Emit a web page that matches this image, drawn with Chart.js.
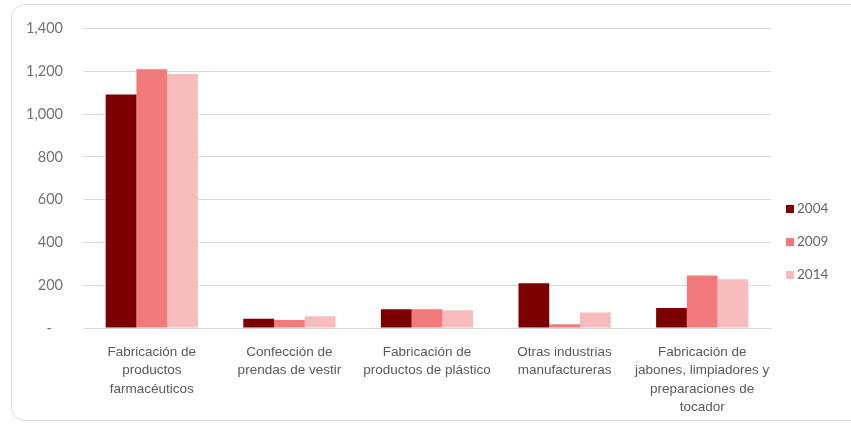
<!DOCTYPE html>
<html>
<head>
<meta charset="utf-8">
<script src="https://cdn.jsdelivr.net/npm/chart.js@4/dist/chart.umd.min.js"></script>
<style>
  html, body { margin: 0; padding: 0; background: #fff; overflow: hidden; }
  #wrap { position: relative; width: 851px; height: 425px; }
  #frame { position: absolute; left: 11px; top: 4px; width: 880px; height: 417px;
           border: 1.5px solid #dcdcdc; border-radius: 14px; box-sizing: border-box; }
  canvas { position: absolute; left: 0; top: 0; }
</style>
</head>
<body>
<div id="wrap">
  <div id="frame"></div>
  <canvas id="c" width="851" height="425"></canvas>
</div>
<script>
// Industry categories (multi-line labels)
const categories = [
  ["Fabricación de", "productos", "farmacéuticos"],
  ["Confección de", "prendas de vestir"],
  ["Fabricación de", "productos de plástico"],
  ["Otras industrias", "manufactureras"],
  ["Fabricación de", "jabones, limpiadores y", "preparaciones de", "tocador"]
];
const years = ["2004", "2009", "2014"];
const values2004 = [1092, 43, 88, 209, 94];
const values2009 = [1210, 38, 88, 18, 246];
const values2014 = [1188, 55, 83, 72, 228];
const yTicks = [0, 200, 400, 600, 800, 1000, 1200, 1400];
const colors = ["#7d0000", "#f27a7a", "#f9bcbc"];

const series = [values2004, values2009, values2014];

// Legend drawn at the right side, entries taken from the datasets
const sideLegend = {
  id: "sideLegend",
  afterDraw(chart) {
    const ctx = chart.ctx;
    ctx.save();
    ctx.font = "13.5px Lato";
    ctx.textBaseline = "middle";
    ctx.textAlign = "left";
    chart.data.datasets.forEach((ds, i) => {
      const y = 209 + i * 33;
      ctx.fillStyle = ds.backgroundColor;
      ctx.fillRect(786, y - 4, 8, 8);
      ctx.fillStyle = "#666666";
      ctx.fillText(ds.label, 797, y);
    });
    ctx.restore();
  }
};

new Chart(document.getElementById("c"), {
  type: "bar",
  data: {
    labels: categories,
    datasets: years.map((y, i) => ({
      label: y,
      data: series[i],
      backgroundColor: colors[i],
      borderWidth: 0,
      categoryPercentage: 0.67,
      barPercentage: 1.0
    }))
  },
  options: {
    responsive: false,
    animation: false,
    devicePixelRatio: 1,
    layout: { padding: { left: 0, right: 80, top: 25, bottom: 0 } },
    plugins: { legend: { display: false }, tooltip: { enabled: false } },
    scales: {
      x: {
        grid: { display: false },
        border: { display: true, color: "#d9d9d9", width: 1 },
        ticks: {
          color: "#595959",
          font: { family: "'Liberation Sans', Arial", size: 13.5, lineHeight: 1.37 },
          padding: 7,
          maxRotation: 0,
          autoSkip: false
        },
        afterFit(scale) { scale.height = 97; }
      },
      y: {
        min: 0,
        max: 1400,
        afterBuildTicks(scale) { scale.ticks = yTicks.map(v => ({ value: v })); },
        grid: { color: "#d9d9d9", lineWidth: 1, drawTicks: false },
        border: { display: false },
        ticks: {
          color: "#737373",
          font: { family: "Lato", size: 14.5 },
          padding: 20,
          callback: v => v === 0 ? "-   " : v.toLocaleString("en-US")
        },
        afterFit(scale) { scale.width = 83; }
      }
    }
  },
  plugins: [sideLegend]
});
</script>
</body>
</html>
